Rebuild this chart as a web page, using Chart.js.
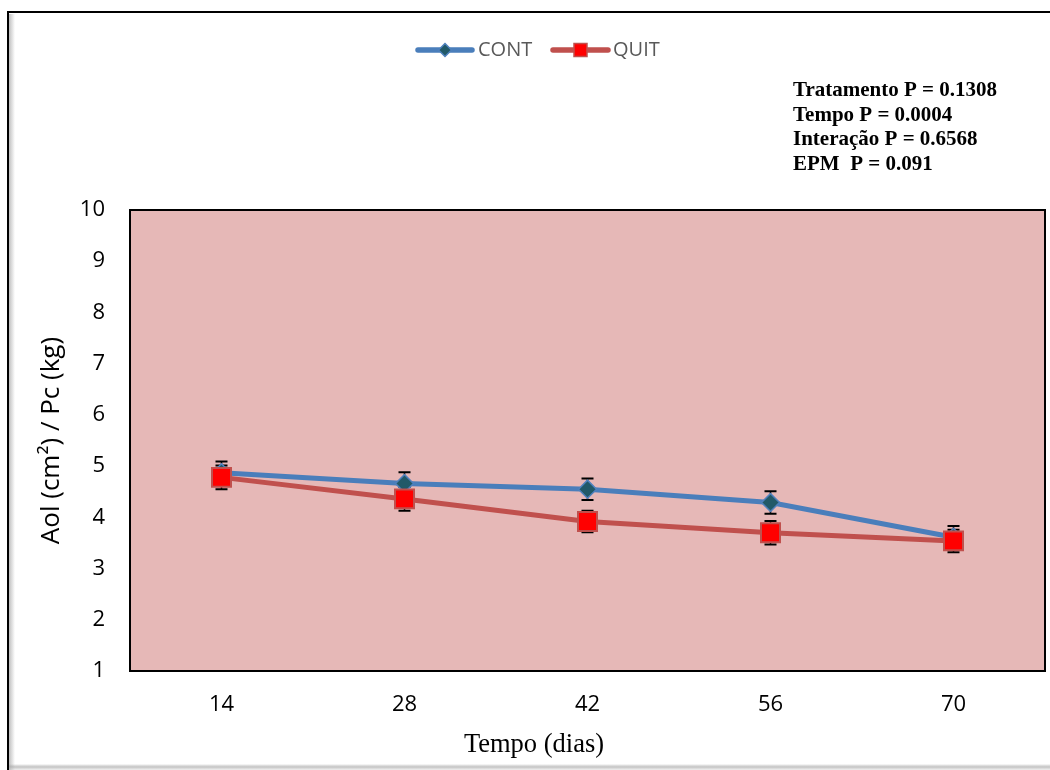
<!DOCTYPE html>
<html>
<head>
<meta charset="utf-8">
<script src="https://cdn.jsdelivr.net/npm/chart.js@4.4.1/dist/chart.umd.min.js"></script>
<style>
html,body{margin:0;padding:0;background:#fff;}
#wrap{position:relative;width:1050px;height:770px;}
</style>
</head>
<body>
<div id="wrap"><canvas id="c" width="1050" height="770"></canvas></div>
<script>
const days = ['14', '28', '42', '56', '70'];
const contValues = [4.87, 4.66, 4.55, 4.29, 3.61];
const quitValues = [4.78, 4.36, 3.92, 3.70, 3.54];
const contErr = [0.22, 0.22, 0.21, 0.22, 0.22];
const quitErr = [0.23, 0.23, 0.21, 0.23, 0.22];
const seriesNames = ['CONT', 'QUIT'];
const yTitle = 'Aol (cm\u00B2) / Pc (kg)';
const xTitle = 'Tempo (dias)';
const statsLines = ['Tratamento P = 0.1308', 'Tempo P = 0.0004', 'Intera\u00E7\u00E3o P = 0.6568', 'EPM  P = 0.091'];

const BLUE = '#4a7ebb';
const RED = '#c0504d';

const framePlugin = {
  id: 'frame',
  beforeDraw(chart) {
    const ctx = chart.ctx;
    const a = chart.chartArea;
    ctx.save();
    const g = ctx.createLinearGradient(9, 0, 15, 0);
    g.addColorStop(0, 'rgba(150,150,150,0.6)');
    g.addColorStop(1, 'rgba(150,150,150,0)');
    ctx.fillStyle = g;
    ctx.fillRect(9, 14, 6, 756);
    const g2 = ctx.createLinearGradient(0, 764, 0, 770);
    g2.addColorStop(0, 'rgba(150,150,150,0)');
    g2.addColorStop(0.5, 'rgba(170,170,170,0.7)');
    g2.addColorStop(1, 'rgba(200,200,200,0.3)');
    ctx.fillStyle = g2;
    ctx.fillRect(9, 764, 1041, 6);
    ctx.strokeStyle = '#000';
    ctx.lineWidth = 2;
    ctx.beginPath();
    ctx.moveTo(8, 770);
    ctx.lineTo(8, 12);
    ctx.lineTo(1050, 12);
    ctx.stroke();
    ctx.fillStyle = '#e6b8b7';
    ctx.fillRect(a.left, a.top, a.right - a.left, a.bottom - a.top);
    ctx.restore();
  },
  beforeDatasetsDraw(chart) {
    const ctx = chart.ctx;
    const xs = chart.scales.x, ys = chart.scales.y;
    ctx.save();
    ctx.strokeStyle = '#000';
    const sets = [[contValues, contErr], [quitValues, quitErr]];
    sets.forEach(([vals, errs]) => {
      vals.forEach((v, i) => {
        const x = xs.getPixelForValue(i);
        const yt = ys.getPixelForValue(v + errs[i]);
        const yb = ys.getPixelForValue(v - errs[i]);
        ctx.lineWidth = 1.5;
        ctx.beginPath();
        ctx.moveTo(x, yt); ctx.lineTo(x, yb);
        ctx.stroke();
        ctx.lineWidth = 2;
        ctx.beginPath();
        ctx.moveTo(x - 6, yt); ctx.lineTo(x + 6, yt);
        ctx.moveTo(x - 6, yb); ctx.lineTo(x + 6, yb);
        ctx.stroke();
      });
    });
    ctx.restore();
  },
  afterDraw(chart) {
    const ctx = chart.ctx;
    const a = chart.chartArea;
    ctx.save();
    ctx.strokeStyle = '#000';
    ctx.lineWidth = 2;
    ctx.strokeRect(a.left, a.top, a.right - a.left, a.bottom - a.top);
    ctx.fillStyle = '#000';
    ctx.font = 'bold 21px "Liberation Serif", "Times New Roman", serif';
    ctx.textBaseline = 'middle';
    ctx.textAlign = 'left';
    statsLines.forEach((t, i) => ctx.fillText(t, 793, 91 + i * 24.5));
    ctx.font = '26.5px "Liberation Serif", "Times New Roman", serif';
    ctx.textAlign = 'center';
    ctx.fillText(xTitle, 534, 745);
    const ly = 50;
    const ds = chart.data.datasets;
    const items = [{x0: 418, x1: 472, tx: 478}, {x0: 553, x1: 608, tx: 613}];
    items.forEach((it, i) => {
      const d = ds[i];
      ctx.strokeStyle = d.borderColor;
      ctx.lineWidth = 5.5;
      ctx.lineCap = 'round';
      ctx.beginPath();
      ctx.moveTo(it.x0, ly); ctx.lineTo(it.x1, ly);
      ctx.stroke();
      const cx = (it.x0 + it.x1) / 2;
      ctx.fillStyle = d.pointBackgroundColor;
      ctx.strokeStyle = d.pointBorderColor;
      ctx.lineWidth = 1.5;
      ctx.beginPath();
      if (i === 0) {
        ctx.moveTo(cx, ly - 6.5); ctx.lineTo(cx + 6.5, ly); ctx.lineTo(cx, ly + 6.5); ctx.lineTo(cx - 6.5, ly);
        ctx.closePath();
      } else {
        ctx.rect(cx - 6.5, ly - 6.5, 13, 13);
      }
      ctx.fill(); ctx.stroke();
      ctx.fillStyle = '#595959';
      ctx.font = '20px "Open Sans", sans-serif';
      ctx.textAlign = 'left';
      ctx.fillText(seriesNames[i], it.tx, ly);
    });
    ctx.restore();
  }
};

new Chart(document.getElementById('c'), {
  type: 'line',
  data: {
    labels: days,
    datasets: [
      {
        label: seriesNames[0],
        data: contValues,
        order: 2,
        borderColor: BLUE,
        borderWidth: 5,
        pointStyle: 'rectRot',
        pointRadius: 9,
        pointBackgroundColor: '#215968',
        pointBorderColor: '#4f81bd',
        pointBorderWidth: 1.5,
        tension: 0
      },
      {
        label: seriesNames[1],
        data: quitValues,
        order: 1,
        borderColor: RED,
        borderWidth: 5,
        pointStyle: 'rect',
        pointRadius: 13.4,
        pointBackgroundColor: '#ff0000',
        pointBorderColor: RED,
        pointBorderWidth: 2,
        tension: 0
      }
    ]
  },
  options: {
    responsive: false,
    animation: false,
    events: [],
    layout: {autoPadding: false, padding: {left: 0, right: 5, top: 210, bottom: 0}},
    plugins: {legend: {display: false}, tooltip: {enabled: false}},
    scales: {
      x: {
        offset: true,
        grid: {display: false, drawTicks: false},
        border: {display: false},
        ticks: {color: '#000', padding: 21, font: {family: '"Open Sans", sans-serif', size: 22}},
        afterFit(s) { s.height = 99; }
      },
      y: {
        min: 1, max: 10,
        grid: {display: false, drawTicks: false},
        border: {display: false},
        ticks: {stepSize: 1, color: '#000', padding: 25, font: {family: '"Open Sans", sans-serif', size: 22}},
        title: {display: true, text: yTitle, color: '#000', padding: {top: 36, bottom: 0}, font: {family: '"Open Sans", sans-serif', size: 26}},
        afterFit(s) { s.width = 130; }
      }
    }
  },
  plugins: [framePlugin]
});
</script>
</body>
</html>
